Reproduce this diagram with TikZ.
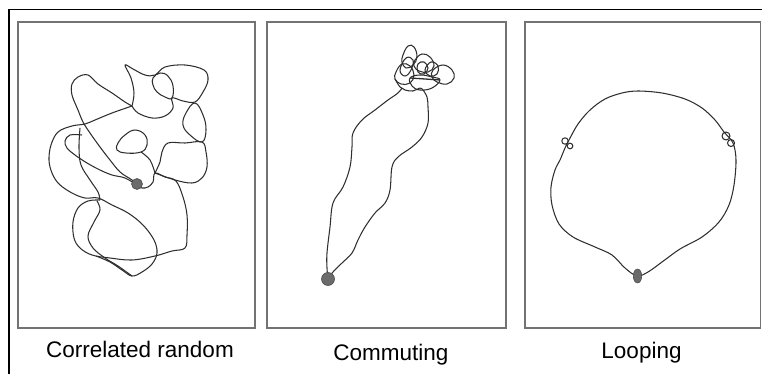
\documentclass[tikz,border=0pt]{standalone}
\usepackage{fontspec}
\setmainfont{Liberation Sans}
\begin{document}
\begin{tikzpicture}[x=1pt,y=-1pt,
  panel/.style={draw=black!55,line width=1.4pt},
  walk/.style={draw=black!82,line width=1.05pt,line join=round},
  dotmark/.style={fill=black!58,draw=black!70,line width=0.6pt},
  caption/.style={anchor=base,inner sep=0pt,font=\fontsize{22.5}{27}\selectfont}]
\useasboundingbox (0,0) rectangle (762,374);
% outer frame
\draw[line width=1.8pt] (9,374) -- (9,9.5) -- (762,9.5);
% panels
\draw[panel] (18,22) rectangle (255,328);
\draw[panel] (267,22) rectangle (506,328);
\draw[panel] (525,22) rectangle (760.5,328);
% ---------- panel 1: correlated random ----------
\draw[walk] plot[smooth,tension=0.6] coordinates {(137,185) (132,180) (120,172) (110,160) (100,147) (90,133) (83,122) (78,110) (72,95) (72,84) (78,77) (88,75) (98,84) (112,93) (125,102) (132,106)};
\draw[walk] plot[smooth,tension=0.6] coordinates {(132,106) (134,93) (131,78) (125,65) (133,69) (145,75) (155,75) (165,67) (185,65) (204,70) (208,80) (203,92) (195,102) (183,101) (172,98) (173,108) (165,116) (152,118) (138,113) (132,106)};
\draw[walk] plot[smooth cycle,tension=0.7] coordinates {(153,78) (160,73) (168,76) (173,86) (172,98) (165,97) (157,92) (153,85)};
\draw[walk] plot[smooth,tension=0.6] coordinates {(132,106) (112,113) (95,120) (85,124) (72,126) (58,132) (51,145) (49,160) (52,173) (59,184) (72,193) (85,198) (98,198) (112,205) (128,213) (143,225) (154,240) (157,253) (152,264) (142,272) (132,276) (122,270) (110,262) (96,256)};
\draw[walk] plot[smooth,tension=0.6] coordinates {(100,200) (88,201) (78,208) (73,222) (74,238) (80,248) (92,255) (110,258) (132,260) (155,256) (172,251) (185,248) (187,235) (187,215) (183,197) (176,181) (165,177) (155,173) (153,182) (148,187) (142,188) (137,185)};
\draw[walk] plot[smooth,tension=0.6] coordinates {(97,201) (100,210) (94,222) (88,236) (93,248) (105,258) (118,266) (132,276)};
\draw[walk] plot[smooth,tension=0.6] coordinates {(155,173) (175,180) (192,183) (202,178) (207,167) (206,152) (202,142) (185,143) (168,143) (162,152) (160,162) (155,173)};
\draw[walk] plot[smooth cycle,tension=0.7] coordinates {(195,103) (186,113) (183,125) (190,135) (202,142) (206,130) (203,115)};
\draw[walk] plot[smooth cycle,tension=0.7] coordinates {(118,143) (125,135) (135,130) (145,135) (147,145) (141,152) (126,153) (117,150)};
\draw[walk] plot[smooth,tension=0.6] coordinates {(141,152) (150,160) (155,173)};
\draw[walk] plot[smooth,tension=0.6] coordinates {(82,135) (70,135) (65,141) (67,148) (75,155) (87,163) (100,170) (112,175) (125,178) (137,185)};
\draw[walk] plot[smooth,tension=0.6] coordinates {(80,128) (79,148) (81,165) (90,180) (98,192) (100,200)};
\draw[dotmark] (137,184) circle (5.5);
% ---------- panel 2: commuting ----------
\draw[walk] plot[smooth,tension=0.6] coordinates {(328,279) (327,268) (327,253) (330,227) (333,203) (343,187) (350,167) (352,147) (353,133) (362,120) (375,110) (388,100) (398,93) (402,88)};
\draw[walk] plot[smooth,tension=0.6] coordinates {(328,279) (333,272) (342,263) (352,253) (358,240) (365,227) (375,213) (385,203) (390,190) (392,167) (398,157) (412,147) (422,137) (428,123) (428,107) (427,97) (423,90)};
\draw[walk] plot[smooth cycle,tension=0.7] coordinates {(403,55) (408,46) (414,47) (417,57) (413,65) (406,68) (402,62)};
\draw[walk] plot[smooth cycle,tension=0.7] coordinates {(415,60) (422,54) (430,57) (434,66) (428,72) (419,71) (414,66)};
\draw[walk] plot[smooth cycle,tension=0.7] coordinates {(433,70) (443,65) (452,70) (454,78) (447,84) (437,82) (432,77)};
\draw[walk] plot[smooth cycle,tension=0.7] coordinates {(396,72) (402,64) (410,66) (414,75) (410,83) (401,84) (395,79)};
\draw[walk] plot[smooth cycle,tension=0.7] coordinates {(410,78) (420,75) (432,77) (440,80) (432,88) (420,90) (412,86)};
\draw[walk] plot[smooth cycle,tension=0.7] coordinates {(418,64) (424,62) (428,68) (424,74) (418,72)};
\draw[walk] plot[smooth cycle,tension=0.7] coordinates {(400,70) (406,58) (413,60) (411,70) (405,76)};
\draw[walk] plot[smooth cycle,tension=0.7] coordinates {(425,70) (431,62) (438,66) (437,74) (430,76)};
\draw[walk] plot[smooth,tension=0.6] coordinates {(395,79) (400,87) (405,90) (413,91) (420,88) (423,90)};
\draw[walk,line width=1.3pt] (410,78) -- (440,80);
\draw[dotmark] (328,279) circle (6.5);
% ---------- panel 3: looping ----------
\draw[walk] plot[smooth cycle,tension=0.55] coordinates {(637,276) (625,268) (612,255) (595,247) (573,237) (559,224) (552,205) (551,187) (555,170) (560,160) (565,148) (569,140) (578,124) (590,110) (605,99) (622,93) (638,91) (662,93) (685,99) (702,108) (715,120) (724,132) (733,143) (736,160) (734,185) (729,205) (719,222) (702,237) (680,249) (662,262) (648,272)};
\draw[walk] (565,141) circle (3.2);
\draw[walk] (570,146) circle (2.8);
\draw[walk] (726,136) circle (4);
\draw[walk] (731,143) circle (3.5);
\draw[dotmark] (637.5,276) ellipse (4.2 and 7);
% ---------- captions ----------
\node[caption] (c1) at (140,357) {Correlated random};
\node[caption] (c2) at (391,360) {Commuting};
\node[caption] (c3) at (641.5,358) {Looping};
\end{tikzpicture}
\end{document}
